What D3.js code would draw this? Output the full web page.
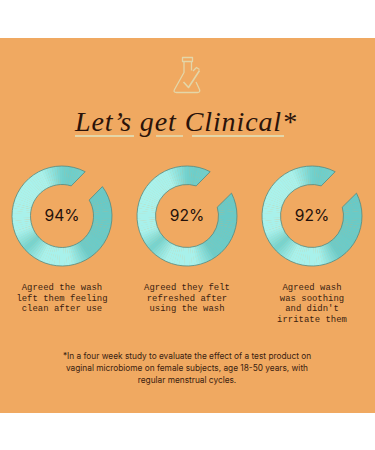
<!DOCTYPE html>
<html lang="en">
<head>
  <meta charset="UTF-8">
  <title>Let's get Clinical</title>
  <script src="https://d3js.org/d3.v7.min.js"></script>
  <style>
    html, body { margin: 0; background: #fff; }
    svg { display: block; }
    .title { font-family: "Liberation Serif", serif; font-style: italic; font-size: 28px; fill: #2a130a; text-anchor: middle; letter-spacing: 0.9px; }
    .pct { font-family: Inter, sans-serif; font-size: 15.6px; fill: #24100a; text-anchor: middle; }
    .label { font-family: "Liberation Mono", monospace; font-size: 8.9px; fill: #3a1d10; text-anchor: middle; letter-spacing: 0.04px; }
    .note { font-family: Inter, sans-serif; font-size: 8.3px; fill: #3a1d10; text-anchor: middle; }
  </style>
</head>
<body>
  <div id="chart"></div>
  <script>
    const percents = [94, 92, 92];
    const captions = [
      ["Agreed the wash", "left them feeling", "clean after use"],
      ["Agreed they felt", "refreshed after", "using the wash"],
      ["Agreed wash", "was soothing", "and didn't", "irritate them"]
    ];
    const noteLines = [
      "*In a four week study to evaluate the effect of a test product on",
      "vaginal microbiome on female subjects, age 18-50 years, with",
      "regular menstrual cycles."
    ];
    const titleWords = ["Let\u2019s", "get", "Clinical"];

    const width = 375, height = 450;
    const rad = Math.PI / 180;

    const svg = d3.select("#chart").append("svg")
      .attr("width", width)
      .attr("height", height);

    svg.append("rect")
      .attr("x", 0).attr("y", 38)
      .attr("width", width).attr("height", 375)
      .attr("fill", "#f0a961");

    // flask icon
    const icon = svg.append("g")
      .attr("fill", "none")
      .attr("stroke", "#e4d6a8")
      .attr("stroke-width", 1.3)
      .attr("stroke-linejoin", "round");
    icon.append("path").attr("d", "M182.5 57.5h10v4h-10zM184 61.5v11l-9.5 17q-1.5 3 2 3h21q3 0 2-3l-3.5-7.5M191.5 61.5v9");
    icon.append("path").attr("d", "M183.5 82l5 5.5l11-17").attr("stroke-width", 1.6);
    icon.append("path").attr("d", "M193 71l3.5-3.5l3 2");

    // title
    svg.append("text").attr("class", "title")
      .attr("x", 186).attr("y", 131)
      .text(`${titleWords.join(" ")}*`);

    const underline = d3.line();
    [[75, 134], [156, 183], [192, 284]].forEach(([a, b]) => {
      svg.append("path")
        .attr("d", underline([[a, 136], [b, 136]]))
        .attr("stroke", "#e4d6a8")
        .attr("stroke-width", 1.8);
    });

    // ring positions
    const x = d3.scalePoint().domain(d3.range(percents.length)).range([62, 312]);
    const cy = 216, outerR = 50, innerR = 31.5;

    // the cut is slanted, so the two radii end at their own angles
    const outerEnd = d3.scaleLinear().domain([0, 100]).range([27.6 + 440, 27.6]);
    const innerEnd = d3.scaleLinear().domain([0, 100]).range([17 + 710, 17]);

    // shading round the ring, clockwise from 12 o'clock
    const shade = d3.scaleLinear()
      .domain([0, 10, 30, 60, 145, 170, 205, 228, 250, 300, 335, 352, 360])
      .range(["#72d0cc", "#6ecdc9", "#72d0cc", "#69c9c6", "#6ccbc8", "#a8f1eb", "#a8f1eb", "#74d2cd", "#a8f1eb", "#aaf2ec", "#a8f1eb", "#84dbd6", "#72d0cc"]);

    const wedge = d3.arc().innerRadius(innerR - 2).outerRadius(outerR + 2);
    const defs = svg.append("defs");

    percents.forEach((v, i) => {
      const g = svg.append("g").attr("transform", `translate(${x(i)},${cy})`);

      // ring outline: outer rim clockwise from the gap end, back along the inner rim
      const oStart = (outerEnd(v) - 90) * rad;
      const oStop = (360 + 27.6 - 90) * rad;
      const iStop = (360 + 17 - 90) * rad;
      const iStart = (innerEnd(v) - 90) * rad;
      const p = d3.path();
      p.arc(0, 0, outerR, oStart, oStop);
      p.lineTo(innerR * Math.cos(iStop), innerR * Math.sin(iStop));
      p.arc(0, 0, innerR, iStop, iStart, true);
      p.closePath();
      const ring = p.toString();

      defs.append("clipPath").attr("id", `ring${i}`).append("path").attr("d", ring);

      g.append("g").attr("clip-path", `url(#ring${i})`)
        .selectAll("path")
        .data(d3.range(0, 360, 3))
        .join("path")
        .attr("d", a => wedge({ startAngle: a * rad, endAngle: (a + 3.4) * rad }))
        .attr("fill", a => shade(a + 1.5));

      g.append("path")
        .attr("d", ring)
        .attr("fill", "none")
        .attr("stroke", "#55897f")
        .attr("stroke-width", 0.8);

      g.append("text").attr("class", "pct")
        .attr("y", 5.3)
        .text(`${v}%`);

      svg.append("g").selectAll("text")
        .data(captions[i])
        .join("text")
        .attr("class", "label")
        .attr("x", x(i))
        .attr("y", (d, k) => 290 + k * 10.6)
        .text(d => d);
    });

    svg.append("g").selectAll("text")
      .data(noteLines)
      .join("text")
      .attr("class", "note")
      .attr("x", 187)
      .attr("y", (d, k) => 358.5 + k * 12.4)
      .text(d => d);
  </script>
</body>
</html>
